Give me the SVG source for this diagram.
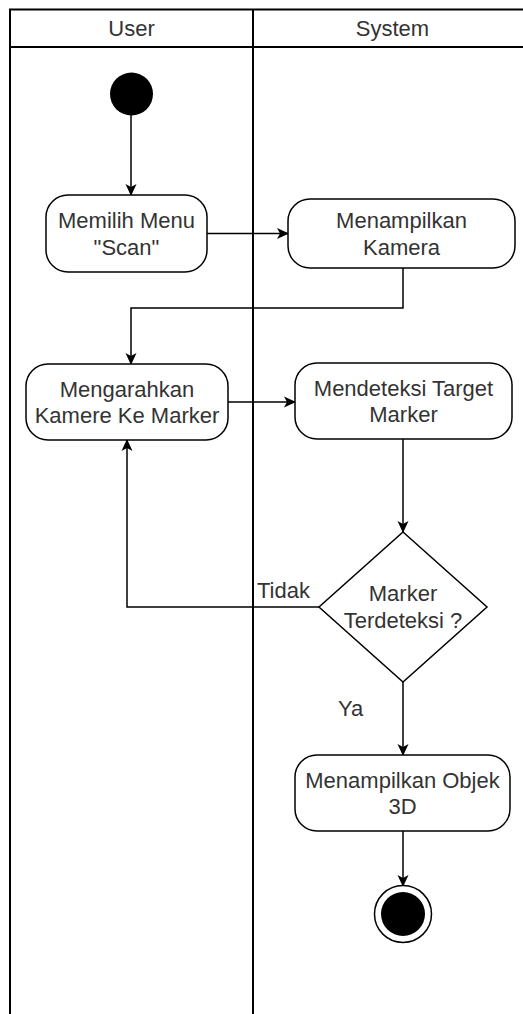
<svg xmlns="http://www.w3.org/2000/svg" width="523" height="1014" viewBox="0 0 523 1014">
  <style>
    .lane { fill: none; stroke: #000; stroke-width: 2; }
    .act { fill: #fff; stroke: #000; stroke-width: 1.5; }
    .lbl { font-family: "Liberation Sans", Arial, sans-serif; font-size: 22px; fill: #333; text-anchor: middle; }
    .edge { fill: none; stroke: #000; stroke-width: 1.5; }
    .elbl { font-family: "Liberation Sans", Arial, sans-serif; font-size: 22px; fill: #333; }
  </style>
  <defs>
    <marker id="arrow" viewBox="0 0 12 12" refX="11" refY="6" markerWidth="12" markerHeight="12" markerUnits="userSpaceOnUse" orient="auto">
      <path d="M0,0.5 L12,6 L0,11.5 L3,6 Z" fill="#000"/>
    </marker>
  </defs>

  <rect width="523" height="1014" fill="#fff"/>

  <!-- swimlanes -->
  <g id="lanes">
    <rect class="lane" x="10" y="9.5" width="522" height="1020"/>
    <line class="lane" x1="10" y1="47" x2="532" y2="47"/>
    <line class="lane" x1="253" y1="9.5" x2="253" y2="1030"/>
    <text class="lbl" x="131.5" y="36">User</text>
    <text class="lbl" x="392.5" y="36">System</text>
  </g>

  <!-- connectors -->
  <g id="connectors">
    <path class="edge" d="M131,115 L131,195" marker-end="url(#arrow)"/>
    <path class="edge" d="M207,233.5 L288,233.5" marker-end="url(#arrow)"/>
    <path class="edge" d="M403,268 L403,308 L131,308 L131,364" marker-end="url(#arrow)"/>
    <path class="edge" d="M228,402 L295,402" marker-end="url(#arrow)"/>
    <path class="edge" d="M403,439 L403,532" marker-end="url(#arrow)"/>
    <path class="edge" d="M319,607 L127,607 L127,440" marker-end="url(#arrow)"/>
    <path class="edge" d="M403,682 L403,755" marker-end="url(#arrow)"/>
    <path class="edge" d="M403,831 L403,886" marker-end="url(#arrow)"/>
    <text class="elbl" x="257" y="598">Tidak</text>
    <text class="elbl" x="338" y="716">Ya</text>
  </g>

  <!-- nodes -->
  <g id="start">
    <circle cx="131.5" cy="94" r="21.5" fill="#000"/>
  </g>

  <g id="memilih-menu">
    <rect class="act" x="46" y="195" width="161" height="77" rx="22" ry="22"/>
    <text class="lbl" x="126.5" y="228">Memilih Menu</text>
    <text class="lbl" x="126.5" y="255">"Scan"</text>
  </g>

  <g id="menampilkan-kamera">
    <rect class="act" x="288" y="199" width="227" height="69" rx="22" ry="22"/>
    <text class="lbl" x="401.5" y="228">Menampilkan</text>
    <text class="lbl" x="401.5" y="255">Kamera</text>
  </g>

  <g id="mengarahkan-kamera">
    <rect class="act" x="26" y="364" width="202" height="76" rx="22" ry="22"/>
    <text class="lbl" x="127" y="397">Mengarahkan</text>
    <text class="lbl" x="127" y="423">Kamere Ke Marker</text>
  </g>

  <g id="mendeteksi-marker">
    <rect class="act" x="295" y="363" width="217" height="76" rx="22" ry="22"/>
    <text class="lbl" x="403.5" y="396">Mendeteksi Target</text>
    <text class="lbl" x="403.5" y="422">Marker</text>
  </g>

  <g id="marker-terdeteksi">
    <polygon class="act" points="403,532 487,607 403,682 319,607"/>
    <text class="lbl" x="403" y="601">Marker</text>
    <text class="lbl" x="403" y="628">Terdeteksi ?</text>
  </g>

  <g id="menampilkan-objek">
    <rect class="act" x="295" y="755" width="215" height="76" rx="22" ry="22"/>
    <text class="lbl" x="402.5" y="788">Menampilkan Objek</text>
    <text class="lbl" x="402.5" y="814">3D</text>
  </g>

  <g id="end">
    <circle cx="403" cy="914" r="28.5" fill="#fff" stroke="#000" stroke-width="1.5"/>
    <circle cx="403" cy="914" r="22" fill="#000"/>
  </g>
</svg>
